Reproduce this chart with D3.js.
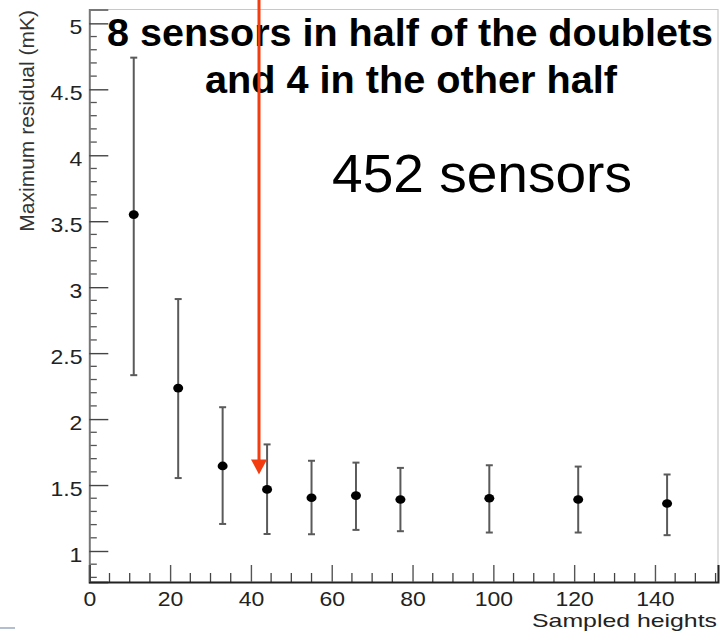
<!DOCTYPE html>
<html>
<head>
<meta charset="utf-8">
<script src="https://cdn.jsdelivr.net/npm/d3@7"></script>
<style>
  body { margin: 0; background: #fff; }
  svg { display: block; font-family: "Liberation Sans", Arial, sans-serif; }
</style>
</head>
<body>
<div id="chart"></div>
<script>
// sampled heights and max residual (mK) with error bar ends
var heights = [11, 22, 33, 44, 55, 66, 77, 99, 121, 143];
var residual = [3.55, 2.235, 1.645, 1.467, 1.404, 1.42, 1.39, 1.40, 1.39, 1.36];
var errLow  = [2.333, 1.553, 1.205, 1.129, 1.127, 1.16, 1.15, 1.14, 1.14, 1.12];
var errHigh = [4.74, 2.91, 2.09, 1.808, 1.684, 1.67, 1.63, 1.65, 1.64, 1.58];
var xTicks = [0, 20, 40, 60, 80, 100, 120, 140];
var yTicks = [1, 1.5, 2, 2.5, 3, 3.5, 4, 4.5, 5];
var arrowAt = [42, 1.58];

var W = 720, H = 632;
var svg = d3.select("#chart").append("svg")
  .attr("width", W)
  .attr("height", H);

var x = d3.scaleLinear().domain([0, 155.6]).range([89.3, 718]);
var y = d3.scaleLinear().domain([0.765, 5.105]).range([582, 9.5]);

// frame (top + right)
svg.append("path")
  .attr("d", "M" + x.range()[0] + "," + y.range()[1] + "H" + x.range()[1] + "V" + y.range()[0])
  .attr("fill", "none")
  .attr("stroke", "#c8c8c8")
  .attr("stroke-width", 1.2);

// minor ticks
var yMinor = d3.range(8, 52).map(function(d) { return d / 10; })
  .filter(function(d) { return yTicks.indexOf(d) < 0; });
var xMinor = d3.range(5, 156, 5).filter(function(d) { return d % 20 != 0; });

svg.append("g").selectAll("line")
  .data(yMinor)
  .enter().append("line")
  .attr("x1", x(0)).attr("x2", x(0) + 7.5)
  .attr("y1", function(d) { return y(d); })
  .attr("y2", function(d) { return y(d); })
  .attr("stroke", "#555").attr("stroke-width", 1.3);

svg.append("g").selectAll("line")
  .data(xMinor)
  .enter().append("line")
  .attr("x1", function(d) { return x(d); })
  .attr("x2", function(d) { return x(d); })
  .attr("y1", y.range()[0]).attr("y2", y.range()[0] - 9)
  .attr("stroke", "#444").attr("stroke-width", 1.3);

// y axis
var yAxis = svg.append("g")
  .attr("transform", "translate(" + x(0) + ",0)")
  .call(d3.axisLeft(y).tickValues(yTicks).tickSize(-19).tickPadding(6)
    .tickFormat(function(d) { return d; }));
yAxis.select(".domain").attr("stroke", "#777").attr("stroke-width", 2);
yAxis.selectAll(".tick line").attr("stroke", "#444").attr("stroke-width", 1.4);
yAxis.selectAll(".tick text")
  .attr("font-size", 20)
  .attr("fill", "#222")
  .attr("dy", "0.5em")
  .attr("transform", "scale(1.15,1)");

// x axis
var xAxis = svg.append("g")
  .attr("transform", "translate(0," + y.range()[0] + ")")
  .call(d3.axisBottom(x).tickValues(xTicks).tickSize(-17).tickPadding(10));
xAxis.select(".domain").attr("stroke", "#222").attr("stroke-width", 2);
xAxis.selectAll(".tick line").attr("stroke", "#555").attr("stroke-width", 1.4);
xAxis.selectAll(".tick text")
  .attr("font-size", 20)
  .attr("fill", "#222")
  .attr("transform", "scale(1.15,1)");

// axis titles
svg.append("text")
  .attr("transform", "translate(34,10) rotate(-90)")
  .attr("text-anchor", "end")
  .attr("font-size", 21)
  .attr("fill", "#333")
  .text("Maximum residual (mK)");

svg.append("text")
  .attr("x", 717).attr("y", 627)
  .attr("text-anchor", "end")
  .attr("font-size", 18.5)
  .attr("textLength", 185)
  .attr("lengthAdjust", "spacingAndGlyphs")
  .attr("fill", "#222")
  .text("Sampled heights");

// error bars
var pts = heights.map(function(h, i) {
  return { h: h, v: residual[i], lo: errLow[i], hi: errHigh[i] };
});
var eb = svg.append("g").selectAll("g")
  .data(pts)
  .enter().append("g")
  .attr("stroke", "#5a5a5a")
  .attr("stroke-width", 2);
eb.append("line")
  .attr("x1", function(d) { return x(d.h); })
  .attr("x2", function(d) { return x(d.h); })
  .attr("y1", function(d) { return y(d.lo); })
  .attr("y2", function(d) { return y(d.hi); });
eb.append("line")
  .attr("x1", function(d) { return x(d.h) - 3.5; })
  .attr("x2", function(d) { return x(d.h) + 3.5; })
  .attr("y1", function(d) { return y(d.lo); })
  .attr("y2", function(d) { return y(d.lo); });
eb.append("line")
  .attr("x1", function(d) { return x(d.h) - 3.5; })
  .attr("x2", function(d) { return x(d.h) + 3.5; })
  .attr("y1", function(d) { return y(d.hi); })
  .attr("y2", function(d) { return y(d.hi); });

svg.append("g").selectAll("ellipse")
  .data(pts)
  .enter().append("ellipse")
  .attr("cx", function(d) { return x(d.h); })
  .attr("cy", function(d) { return y(d.v); })
  .attr("rx", 5).attr("ry", 4.3)
  .attr("fill", "#000");

// annotation text
svg.append("text")
  .attr("x", 410).attr("y", 46)
  .attr("text-anchor", "middle")
  .attr("font-size", 38)
  .attr("font-weight", "bold")
  .attr("textLength", 606)
  .attr("lengthAdjust", "spacingAndGlyphs")
  .text("8 sensors in half of the doublets");
svg.append("text")
  .attr("x", 411).attr("y", 93)
  .attr("text-anchor", "middle")
  .attr("font-size", 38)
  .attr("font-weight", "bold")
  .attr("textLength", 412)
  .attr("lengthAdjust", "spacingAndGlyphs")
  .text("and 4 in the other half");
svg.append("text")
  .attr("x", 332).attr("y", 192)
  .attr("font-size", 54)
  .attr("textLength", 300)
  .attr("lengthAdjust", "spacingAndGlyphs")
  .text("452 sensors");

// red arrow
var ax = x(arrowAt[0]), tip = y(arrowAt[1]);
svg.append("line")
  .attr("x1", ax).attr("x2", ax)
  .attr("y1", 0).attr("y2", tip - 14)
  .attr("stroke", "#f33d10").attr("stroke-width", 3);
svg.append("path")
  .attr("d", "M" + (ax - 8) + "," + (tip - 15) + "L" + (ax + 8) + "," + (tip - 15) + "L" + ax + "," + tip + "Z")
  .attr("fill", "#f33d10");

// small mark bottom-left
svg.append("line")
  .attr("x1", 0).attr("x2", 15).attr("y1", 628).attr("y2", 628)
  .attr("stroke", "#9aaac0").attr("stroke-width", 1.5);
</script>
</body>
</html>
